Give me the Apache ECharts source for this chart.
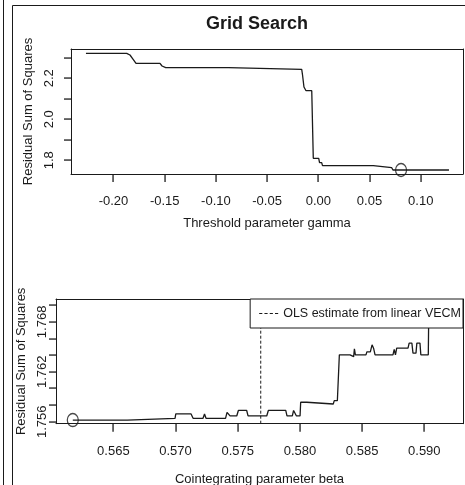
<!DOCTYPE html>
<html>
<head>
<meta charset="utf-8">
<script src="https://cdn.jsdelivr.net/npm/echarts@6/dist/echarts.min.js"></script>
<style>
html,body{margin:0;padding:0;background:#fff;}
#c{width:465px;height:485px;}
</style>
</head>
<body>
<div id="c"></div>
<script>
// ---- Top panel: threshold parameter gamma ----
var gammaVals = [-0.2269,-0.1871,-0.1839,-0.1810,-0.1780,-0.1546,-0.1526,-0.1490,-0.0879,-0.0862,-0.0162,-0.0154,-0.0140,-0.0125,-0.0120,-0.0064,-0.0049,0.0004,0.0012,0.0033,0.0041,0.0537,0.0554,0.0717,0.0729,0.1276];
var rssGamma  = [2.3214,2.3214,2.3131,2.2936,2.2727,2.2727,2.2596,2.2513,2.2513,2.2435,2.2435,2.2157,2.1572,2.1572,2.1392,2.1392,1.8097,1.8097,1.7883,1.7883,1.7737,1.7737,1.7640,1.7640,1.7527,1.7527];
var gammaBest = [0.0808, 1.7527];
var gammaTicks = [-0.20,-0.15,-0.10,-0.05,0.00,0.05,0.10];
var rssGammaTicks = [1.8,1.9,2.0,2.1,2.2,2.3];
var rssGammaLabels = [1.8,2.0,2.2];
var gammaRange = [-0.2415, 0.1413];
var rssGammaRange = [1.7332, 2.3424];

// ---- Bottom panel: cointegrating parameter beta ----
var betaVals = [0.56174,0.56612,0.56625,0.56996,0.57002,0.57125,0.57141,0.57221,0.57233,0.57245,0.57402,0.57414,0.57428,0.57438,0.57492,0.57505,0.57572,0.57583,0.57733,0.57746,0.57886,0.57896,0.57939,0.57949,0.57965,0.57972,0.58001,0.58006,0.58055,0.58060,0.58268,0.58276,0.58301,0.58317,0.58403,0.58410,0.58432,0.58438,0.58446,0.58531,0.58538,0.58566,0.58580,0.58592,0.58604,0.58748,0.58758,0.58768,0.58778,0.58869,0.58878,0.58900,0.58909,0.58933,0.58940,0.58965,0.58972,0.59032,0.59036,0.59060,0.59072,0.59084,0.59096,0.59110,0.59125,0.59138,0.59166];
var rssBeta  = [1.75620,1.75620,1.75641,1.75641,1.75693,1.75693,1.75641,1.75641,1.75693,1.75641,1.75641,1.75713,1.75713,1.75669,1.75669,1.75735,1.75735,1.75669,1.75669,1.75735,1.75735,1.75669,1.75669,1.75735,1.75735,1.75669,1.75669,1.75834,1.75834,1.75813,1.75813,1.75853,1.75853,1.76404,1.76404,1.76383,1.76383,1.76476,1.76404,1.76404,1.76440,1.76440,1.76524,1.76484,1.76404,1.76404,1.76470,1.76404,1.76484,1.76484,1.76545,1.76545,1.76424,1.76424,1.76545,1.76545,1.76404,1.76404,1.76946,1.76946,1.77030,1.76960,1.77020,1.76960,1.77000,1.76950,1.76950];
var betaBest = [0.56174, 1.75620];
var olsBeta = 0.57685;
var betaTicks = [0.565,0.570,0.575,0.580,0.585,0.590];
var rssBetaTicks = [1.756,1.758,1.760,1.762,1.764,1.766,1.768,1.770];
var rssBetaLabels = [1.756,1.762,1.768];
var betaRange = [0.56039, 0.59311];
var rssBetaRange = [1.75576, 1.77075];

var FONT = 'Liberation Sans, Arial, Helvetica, sans-serif';
var INK = '#1a1a1a';
var X_TICK_LEN = 8, Y_TICK_LEN = 7;

function zip(a, b) { return a.map(function (v, i) { return [v, b[i]]; }); }

function xAxisCfg(idx, range, ticks, dec, name, nameGap) {
  return {
    type: 'value', gridIndex: idx, min: range[0], max: range[1], position: 'bottom',
    name: name, nameLocation: 'middle', nameGap: nameGap,
    nameTextStyle: {fontFamily: FONT, fontSize: 13, color: INK},
    axisLine: {show: true, onZero: false, lineStyle: {color: INK, width: 1}},
    axisTick: {show: false},
    axisLabel: {show: true, customValues: ticks, margin: 21, fontFamily: FONT, fontSize: 13, color: INK,
      formatter: function (v) { return Number(v).toFixed(dec); }},
    splitLine: {show: false}
  };
}
function yAxisCfg(idx, range, labels, dec, name, nameGap, margin) {
  return {
    type: 'value', gridIndex: idx, min: range[0], max: range[1], position: 'left',
    name: name, nameLocation: 'middle', nameGap: nameGap, nameRotate: 90,
    nameTextStyle: {fontFamily: FONT, fontSize: 13, color: INK},
    axisLine: {show: true, onZero: false, lineStyle: {color: INK, width: 1}},
    axisTick: {show: false},
    axisLabel: {show: true, customValues: labels, rotate: 90, margin: margin, fontFamily: FONT, fontSize: 13, color: INK,
      formatter: function (v) { return Number(v).toFixed(dec); }},
    splitLine: {show: false}
  };
}
// plain frame axes (top / right edges of each box)
function frameAxis(idx, range, pos) {
  return {
    type: 'value', gridIndex: idx, min: range[0], max: range[1], position: pos,
    axisLine: {show: true, onZero: false, lineStyle: {color: INK, width: 1}},
    axisTick: {show: false}, axisLabel: {show: false}, splitLine: {show: false}
  };
}

var chart = echarts.init(document.getElementById('c'), null, {renderer: 'canvas'});
chart.setOption({
  animation: false,
  backgroundColor: '#fff',
  title: {
    text: 'Grid Search', left: 257, top: 15, padding: 0, textAlign: 'center',
    textStyle: {fontFamily: FONT, fontSize: 18, fontWeight: 'bold', color: INK}
  },
  grid: [
    {left: 71, top: 49, width: 392, height: 125, show: false, containLabel: false, outerBoundsMode: 'none'},
    {left: 56, top: 299, width: 407, height: 124.7, show: false, containLabel: false, outerBoundsMode: 'none'}
  ],
  xAxis: [
    xAxisCfg(0, gammaRange, gammaTicks, 2, 'Threshold parameter gamma', 43),
    xAxisCfg(1, betaRange, betaTicks, 3, 'Cointegrating parameter beta', 49),
    frameAxis(0, gammaRange, 'top'),
    frameAxis(1, betaRange, 'top')
  ],
  yAxis: [
    yAxisCfg(0, rssGammaRange, rssGammaLabels, 1, 'Residual Sum of Squares', 29, 15),
    yAxisCfg(1, rssBetaRange, rssBetaLabels, 3, 'Residual Sum of Squares', 21, 7),
    frameAxis(0, rssGammaRange, 'right'),
    frameAxis(1, rssBetaRange, 'right')
  ],
  legend: {
    data: [{name: 'OLS estimate from linear VECM',
            icon: 'path://M0,0h3v1h-3zM5,0h3v1h-3zM10,0h3v1h-3zM15,0h3v1h-3z'}],
    right: 2, top: 299, orient: 'horizontal',
    borderColor: INK, borderWidth: 1, borderRadius: 0,
    padding: [8, 2, 8, 9], itemWidth: 19, itemHeight: 1.2, backgroundColor: '#fff',
    itemStyle: {color: INK, borderWidth: 0},
    textStyle: {fontFamily: FONT, fontSize: 12.5, color: INK},
    selectedMode: false
  },
  series: [
    {type: 'line', xAxisIndex: 0, yAxisIndex: 0, data: zip(gammaVals, rssGamma),
      symbol: 'none', lineStyle: {color: INK, width: 1.3}, silent: true, z: 3},
    {type: 'scatter', xAxisIndex: 0, yAxisIndex: 0, data: [gammaBest],
      symbol: 'circle', symbolSize: [11, 13],
      itemStyle: {color: 'transparent', borderColor: INK, borderWidth: 1.3}, silent: true, z: 4},
    {type: 'line', xAxisIndex: 1, yAxisIndex: 1, data: zip(betaVals, rssBeta),
      symbol: 'none', lineStyle: {color: INK, width: 1.3}, silent: true, z: 3},
    {type: 'scatter', xAxisIndex: 1, yAxisIndex: 1, data: [betaBest],
      symbol: 'circle', symbolSize: [11, 13],
      itemStyle: {color: 'transparent', borderColor: INK, borderWidth: 1.3}, silent: true, z: 4},
    {name: 'OLS estimate from linear VECM', type: 'line', xAxisIndex: 1, yAxisIndex: 1,
      data: [[olsBeta, rssBetaRange[0]], [olsBeta, rssBetaRange[1]]],
      symbol: 'none', showSymbol: false, color: INK,
      lineStyle: {color: INK, width: 1, type: [3, 2]}, silent: true, z: 2}
  ]
});

// Frame decoration + outward tick marks, positioned through the chart's own axis scales
var graphics = [
  {type: 'line', shape: {x1: 3.5, y1: 0, x2: 3.5, y2: 485}, style: {stroke: INK, lineWidth: 1}, silent: true},
  {type: 'line', shape: {x1: 12.5, y1: 5.5, x2: 12.5, y2: 485}, style: {stroke: INK, lineWidth: 1}, silent: true},
  {type: 'line', shape: {x1: 12.5, y1: 5.5, x2: 465, y2: 5.5}, style: {stroke: INK, lineWidth: 1}, silent: true}
];
function addTicks(seriesIndex, xTicks, yTicks, xMin, yMin) {
  xTicks.forEach(function (v) {
    var p = chart.convertToPixel({seriesIndex: seriesIndex}, [v, yMin]);
    var x = Math.round(p[0]);
    graphics.push({type: 'rect', silent: true, z: 10,
      shape: {x: x - 0.6, y: p[1], width: 1.3, height: X_TICK_LEN},
      style: {fill: INK}});
  });
  yTicks.forEach(function (v) {
    var p = chart.convertToPixel({seriesIndex: seriesIndex}, [xMin, v]);
    var y = Math.round(p[1]);
    graphics.push({type: 'rect', silent: true, z: 10,
      shape: {x: p[0] - Y_TICK_LEN, y: y - 0.6, width: Y_TICK_LEN, height: 1.3},
      style: {fill: INK}});
  });
}
addTicks(0, gammaTicks, rssGammaTicks, gammaRange[0], rssGammaRange[0]);
addTicks(2, betaTicks, rssBetaTicks, betaRange[0], rssBetaRange[0]);
chart.setOption({graphic: graphics});
</script>
</body>
</html>
